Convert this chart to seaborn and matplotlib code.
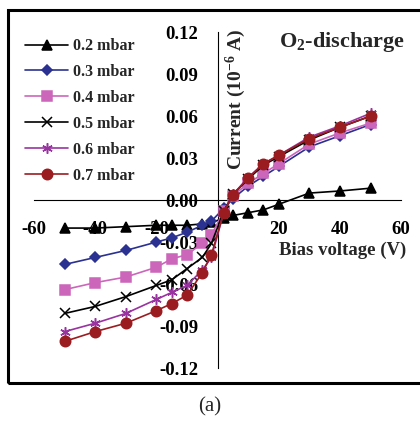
import matplotlib
matplotlib.use("Agg")
import matplotlib.pyplot as plt
import seaborn as sns
from matplotlib.patches import Rectangle

# bias voltage (V) and probe current (10^-6 A) for each pressure
voltage = [-50, -40, -30, -20, -15, -10, -5, -2, 2, 5, 10, 15, 20, 30, 40, 50]
i_02 = [-0.020, -0.020, -0.019, -0.018, -0.018, -0.018, -0.017, -0.016,
        -0.013, -0.011, -0.009, -0.007, -0.003, 0.005, 0.0065, 0.0085]
i_03 = [-0.046, -0.041, -0.036, -0.030, -0.027, -0.023, -0.018, -0.015,
        -0.006, 0.001, 0.010, 0.017, 0.024, 0.038, 0.046, 0.054]
i_04 = [-0.064, -0.059, -0.055, -0.048, -0.042, -0.039, -0.031, -0.025,
        -0.008, 0.003, 0.012, 0.019, 0.026, 0.040, 0.048, 0.055]
i_05 = [-0.081, -0.076, -0.069, -0.061, -0.057, -0.049, -0.041, -0.031,
        -0.008, 0.004, 0.015, 0.025, 0.031, 0.043, 0.052, 0.060]
i_06 = [-0.094, -0.088, -0.081, -0.071, -0.066, -0.061, -0.050, -0.041,
        -0.009, 0.004, 0.016, 0.026, 0.032, 0.045, 0.053, 0.062]
i_07 = [-0.101, -0.094, -0.088, -0.079, -0.074, -0.068, -0.052, -0.039,
        -0.009, 0.0036, 0.016, 0.026, 0.032, 0.044, 0.052, 0.060]

labels = ['0.2 mbar', '0.3 mbar', '0.4 mbar', '0.5 mbar', '0.6 mbar', '0.7 mbar']
series = [i_02, i_03, i_04, i_05, i_06, i_07]
colors = ['black', '#2b3190', '#cc66bb', 'black', '#9933a0', '#9b1c20']
markers = ['^', 'D', 's', 'x', (6, 2, 0), 'o']
msizes = [7, 5.5, 7, 6.5, 7.5, 7.5]

xticks = [-60, -40, -20, 20, 40, 60]
yticks = [-0.12, -0.09, -0.06, -0.03, 0.00, 0.03, 0.06, 0.09, 0.12]

sns.set_style('white')
plt.rcParams['font.family'] = ['Liberation Serif', 'DejaVu Serif']
plt.rcParams['font.weight'] = 'bold'
plt.rcParams['mathtext.fontset'] = 'custom'
plt.rcParams['mathtext.rm'] = 'Liberation Serif:bold'
plt.rcParams['mathtext.bf'] = 'Liberation Serif:bold'
plt.rcParams['mathtext.default'] = 'bf'

fig = plt.figure(figsize=(4.2, 4.23), dpi=100)
ax = fig.add_axes([0.081, 0.130, 0.874, 0.794])

for lab, vals, c, m, ms in zip(labels, series, colors, markers, msizes):
    sns.lineplot(x=voltage, y=vals, ax=ax, color=c, marker=m, markersize=ms,
                 markeredgecolor=c, markerfacecolor=c, markeredgewidth=1.1,
                 linewidth=1.2, label=lab, zorder=3)

ax.set_xlim(-60, 60)
ax.set_ylim(-0.12, 0.12)
ax.set_xticks(xticks)
ax.set_yticks(yticks)
ax.set_xticklabels([str(v) for v in xticks])
ax.set_yticklabels(['%.2f' % v for v in yticks])

for s in ['top', 'right']:
    ax.spines[s].set_visible(False)
ax.spines['left'].set_position('zero')
ax.spines['bottom'].set_position('zero')
for s in ['left', 'bottom']:
    ax.spines[s].set_color('black')
    ax.spines[s].set_linewidth(0.8)
ax.tick_params(axis='both', direction='out', length=5, width=0.8, colors='black',
               labelsize=13.5)
ax.tick_params(axis='x', pad=10)
ax.tick_params(axis='y', pad=9)
ax.set_xlabel('')
ax.set_ylabel('')

fig.text(0.562, 0.765, 'Current (10$^{-6}$ A)', rotation=90,
         fontsize=14, fontweight='bold', ha='center', va='center')
fig.text(0.815, 0.408, 'Bias voltage (V)', fontsize=13.5, fontweight='bold',
         ha='center', va='center')
fig.text(0.815, 0.900, 'O$_{2}$-discharge', fontsize=16, fontweight='bold',
         ha='center', va='center')
fig.text(0.5, 0.038, '(a)', fontsize=15, fontweight='normal', ha='center', va='center')

leg = ax.legend(loc='upper left', bbox_to_anchor=(0.045, 0.925),
                bbox_transform=fig.transFigure, frameon=False, fontsize=11.5,
                handlelength=2.7, handletextpad=0.3, labelspacing=0.62,
                borderaxespad=0)

fig.add_artist(Rectangle((0.020, 0.094), 1.2, 0.882, transform=fig.transFigure,
                         fill=False, edgecolor='black', linewidth=2.2))

fig.savefig('out.png', dpi=100)
